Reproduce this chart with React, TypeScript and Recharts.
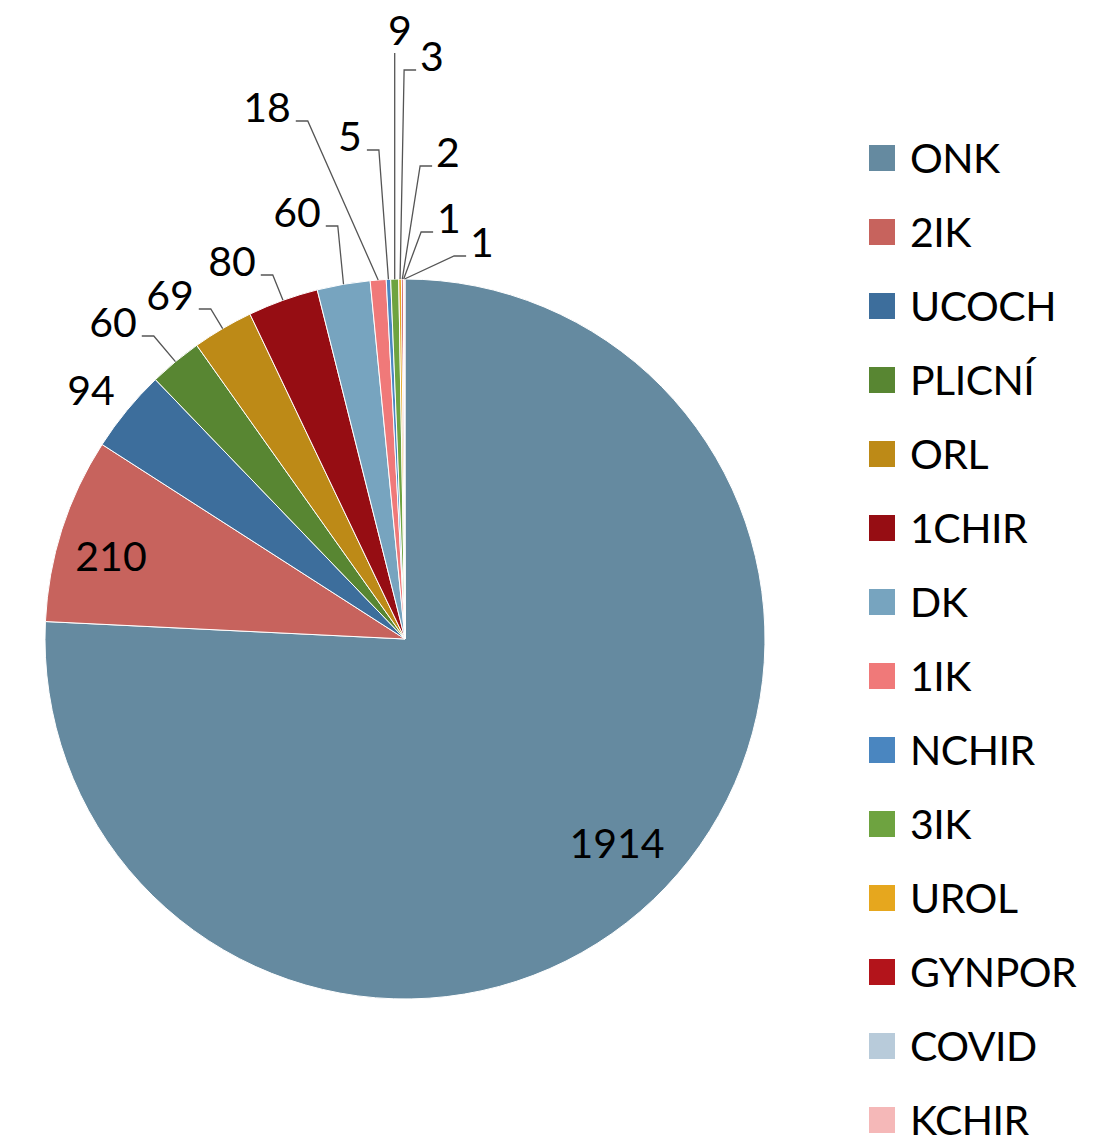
import React from "react";
import { PieChart, Pie, Cell, Legend } from "recharts";

const categories = ["ONK", "2IK", "UCOCH", "PLICNÍ", "ORL", "1CHIR", "DK", "1IK", "NCHIR", "3IK", "UROL", "GYNPOR", "COVID", "KCHIR"];
const values = [1914, 210, 94, 60, 69, 80, 60, 18, 5, 9, 3, 2, 1, 1];
const colors = ["#658AA0", "#C7635D", "#3D6E9C", "#588632", "#BD8A17", "#960D13", "#77A4BF", "#F07979", "#4A86C0", "#6EA340", "#E6A71E", "#B3141B", "#B8CBDA", "#F5B8B8"];

// label layout (offset of label centre from pie centre) and whether a leader line is drawn
const labelOffsets: [number, number][] = [
  [212, 204], [-294, -83], [-314, -249], [-292, -317], [-235, -344], [-173, -378], [-108, -427],
  [-138, -532], [-55, -503], [-5, -609], [27, -583], [43, -487], [44, -421], [77, -397],
];
const leaders = [false, false, false, true, true, true, true, true, true, true, true, true, true, true];

const data = categories.map((name, i) => ({ name, value: values[i] }));

const FONT = "Lato, 'Open Sans', sans-serif";
const FS = 41;

const renderLabel = (props: any) => {
  const { cx, cy, midAngle, outerRadius, index } = props;
  const RAD = Math.PI / 180;
  const ax = cx + outerRadius * Math.cos(-midAngle * RAD);
  const ay = cy + outerRadius * Math.sin(-midAngle * RAD);
  const [dx, dy] = labelOffsets[index];
  const tx = cx + dx;
  const ty = cy + dy;
  const text = String(values[index]);
  const hw = (text.length * 0.58 * FS) / 2;
  let pts = "";
  if (leaders[index]) {
    if (Math.abs(tx - ax) < 10) {
      pts = `${ax},${ty + 23} ${ax},${ay}`;
    } else if (tx < ax) {
      const x1 = tx + hw + 5;
      const yl = ty + 14;
      pts = `${x1},${yl} ${x1 + 12},${yl} ${ax},${ay}`;
    } else {
      const x1 = tx - hw - 4;
      const yl = ty + 14;
      pts = `${x1},${yl} ${x1 - 12},${yl} ${ax},${ay}`;
    }
  }
  return (
    <g key={`lbl-${index}`}>
      {pts && <polyline points={pts} fill="none" stroke="#555555" strokeWidth={1.3} />}
      <text x={tx} y={ty + 15} textAnchor="middle" fontSize={FS} fontFamily={FONT} fill="#000">
        {text}
      </text>
    </g>
  );
};

const renderLegend = () => (
  <div style={{ fontFamily: FONT }}>
    {categories.map((c, i) => (
      <div key={c} style={{ display: "flex", alignItems: "center", height: 74 }}>
        <div style={{ width: 26, height: 26, background: colors[i], marginRight: 15, flexShrink: 0 }} />
        <span style={{ fontSize: FS, color: "#000", lineHeight: "36px", letterSpacing: -0.5 }}>{c}</span>
      </div>
    ))}
  </div>
);

export default function App() {
  return (
    <div style={{ position: "absolute", left: 0, top: 0, width: 1114, height: 1140, background: "#fff" }}>
      <PieChart width={1114} height={1140} margin={{ top: 0, right: 0, bottom: 0, left: 0 }}>
        <Pie
          data={data}
          dataKey="value"
          nameKey="name"
          cx={405}
          cy={639}
          outerRadius={360}
          startAngle={90}
          endAngle={-270}
          stroke="#ffffff"
          strokeWidth={1}
          label={renderLabel}
          labelLine={false}
          isAnimationActive={false}
        >
          {data.map((d, i) => (
            <Cell key={d.name} fill={colors[i]} />
          ))}
        </Pie>
        <Legend
          content={renderLegend}
          layout="vertical"
          wrapperStyle={{ position: "absolute", left: 869, top: 121, width: 240 }}
        />
      </PieChart>
    </div>
  );
}
